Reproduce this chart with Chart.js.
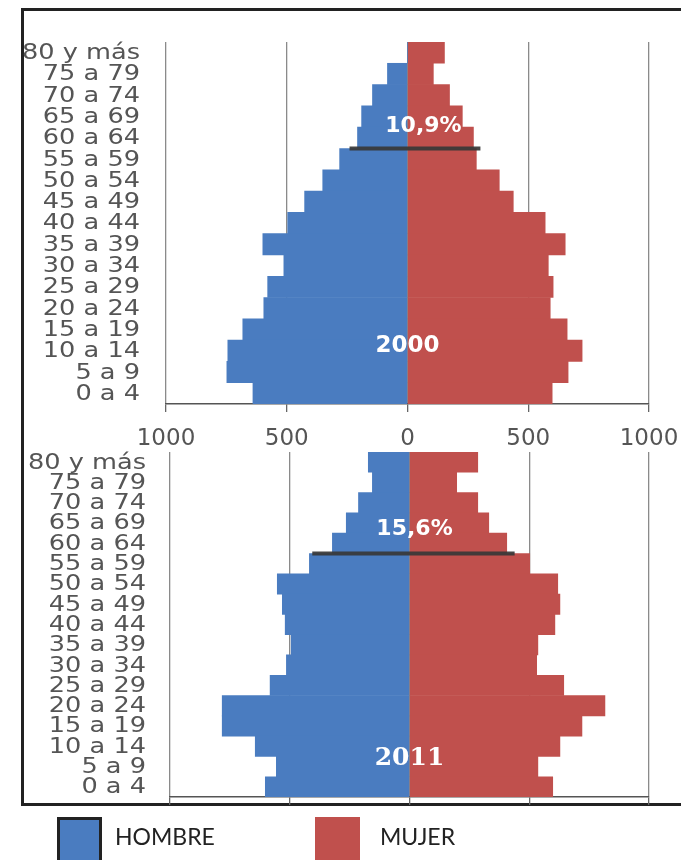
<!DOCTYPE html>
<html>
<head>
<meta charset="utf-8">
<script src="https://cdn.jsdelivr.net/npm/chart.js@4.4.1/dist/chart.umd.min.js"></script>
<style>
  body { margin: 0; background: #fff; width: 681px; height: 860px; overflow: hidden; position: relative; }
  .frame { position: absolute; left: 21px; top: 8px; width: 720px; height: 798px; border: 3px solid #222; box-sizing: border-box; }
  canvas { position: absolute; left: 0; }
  #chart2000 { top: 0; }
  #chart2011 { top: 400px; }
  .sw { position: absolute; top: 817px; width: 45px; height: 50px; box-sizing: border-box; }
  .lbl { position: absolute; top: 822px; font: 23px Lato, sans-serif; color: #222; }
</style>
</head>
<body>
<div class="frame"></div>
<canvas id="chart2000" width="681" height="450"></canvas>
<canvas id="chart2011" width="681" height="440"></canvas>
<div class="sw" style="left:57px;background:#4a7cc0;border:3px solid #222"></div>
<div class="lbl" style="left:115px">HOMBRE</div>
<div class="sw" style="left:315px;background:#c0504d"></div>
<div class="lbl" style="left:380px">MUJER</div>

<script>
const ageGroups = ["80 y más", "75 a 79", "70 a 74", "65 a 69", "60 a 64", "55 a 59",
  "50 a 54", "45 a 49", "40 a 44", "35 a 39", "30 a 34", "25 a 29", "20 a 24",
  "15 a 19", "10 a 14", "5 a 9", "0 a 4"];

// 2000
const hombre2000 = [0, 83, 145, 190, 207, 281, 351, 426, 496, 599, 512, 579, 595, 682, 744, 748, 640];
const mujer2000 = [153, 107, 174, 227, 273, 285, 380, 438, 570, 653, 583, 603, 591, 661, 723, 665, 599];

// 2011
const hombre2011 = [172, 155, 213, 264, 322, 418, 552, 531, 519, 494, 514, 582, 782, 782, 644, 556, 602];
const mujer2011 = [285, 197, 285, 331, 406, 502, 619, 628, 607, 536, 531, 644, 816, 720, 628, 536, 598];

const xTicks = [-1000, -500, 0, 500, 1000];

const blue = "#4a7cc0";
const red = "#c0504d";

// age labels (stretched wide like the original), dark line over the 60+ boundary, white texts
const overlay = {
  id: "overlay",
  afterDatasetsDraw(chart, args, o) {
    const ctx = chart.ctx;
    const x = chart.scales.x;
    const y = chart.scales.y;
    ctx.save();

    ctx.fillStyle = "#555";
    ctx.font = "21px 'DejaVu Sans'";
    ctx.textAlign = "right";
    ctx.textBaseline = "middle";
    chart.data.labels.forEach((lab, i) => {
      ctx.save();
      ctx.translate(y.right - o.labelGap, y.getPixelForValue(i) + 1);
      ctx.scale(1.22, 1);
      ctx.fillText(lab, 0, 0);
      ctx.restore();
    });

    const yCut = (y.getPixelForValue(o.cut) + y.getPixelForValue(o.cut + 1)) / 2;
    ctx.strokeStyle = "rgba(55,55,55,0.92)";
    ctx.lineWidth = 4;
    ctx.beginPath();
    ctx.moveTo(x.getPixelForValue(o.line[0]), yCut);
    ctx.lineTo(x.getPixelForValue(o.line[1]), yCut);
    ctx.stroke();

    ctx.fillStyle = "#fff";
    ctx.textAlign = "center";
    ctx.font = "bold 22px 'DejaVu Sans'";
    ctx.fillText(o.pct, x.getPixelForValue(o.pctAt[0]), y.getPixelForValue(o.pctAt[1]));
    ctx.font = o.yearFont;
    ctx.fillText(o.year, x.getPixelForValue(o.yearAt[0]), y.getPixelForValue(o.yearAt[1]));
    ctx.restore();
  }
};

function pyramid(id, hombre, mujer, cfg) {
  return new Chart(id, {
    type: "bar",
    data: {
      labels: ageGroups,
      datasets: [
        { label: "HOMBRE", data: hombre.map(v => -v), backgroundColor: blue },
        { label: "MUJER", data: mujer, backgroundColor: red }
      ]
    },
    options: {
      indexAxis: "y",
      responsive: false,
      animation: false,
      devicePixelRatio: 1,
      barPercentage: 1,
      categoryPercentage: 1,
      layout: { padding: { top: cfg.top, right: 32, left: 0, bottom: 0 } },
      plugins: {
        legend: { display: false },
        tooltip: { enabled: false },
        overlay: cfg.overlay
      },
      scales: {
        x: {
          stacked: true,
          min: -1000,
          max: 1000,
          afterBuildTicks: s => { s.ticks = xTicks.map(v => ({ value: v })); },
          afterFit: s => {
            s.height = cfg.xHeight;
            s.paddingLeft = 0;
            s.paddingRight = 0;
          },
          grid: { color: "#8a8a8a", lineWidth: 1.3, tickLength: 8, tickColor: "#666" },
          border: { display: true, color: "#555", width: 1.5 },
          ticks: {
            display: cfg.showTicks,
            padding: 13,
            color: "#555",
            font: { family: "DejaVu Sans", size: 23 },
            maxRotation: 0,
            callback: v => Math.abs(v)
          }
        },
        y: {
          stacked: true,
          afterFit: s => { s.width = cfg.yWidth; },
          grid: { display: false, drawTicks: false },
          border: { display: false },
          ticks: { display: false }
        }
      }
    },
    plugins: [overlay]
  });
}

pyramid("chart2000", hombre2000, mujer2000, {
  top: 42, xHeight: 46, yWidth: 166, showTicks: true,
  overlay: { labelGap: 26, cut: 4, line: [-240, 302], pct: "10,9%", pctAt: [66, 3.45], year: "2000", yearAt: [0, 13.8],
    yearFont: "bold 23px 'DejaVu Sans'" }
});

pyramid("chart2011", hombre2011, mujer2011, {
  top: 52, xHeight: 43, yWidth: 170, showTicks: false,
  overlay: { labelGap: 24, cut: 4, line: [-406, 439], pct: "15,6%", pctAt: [21, 3.3], year: "2011", yearAt: [0, 14.6],
    yearFont: "bold 25px 'DejaVu Serif'" }
});
</script>
</body>
</html>
